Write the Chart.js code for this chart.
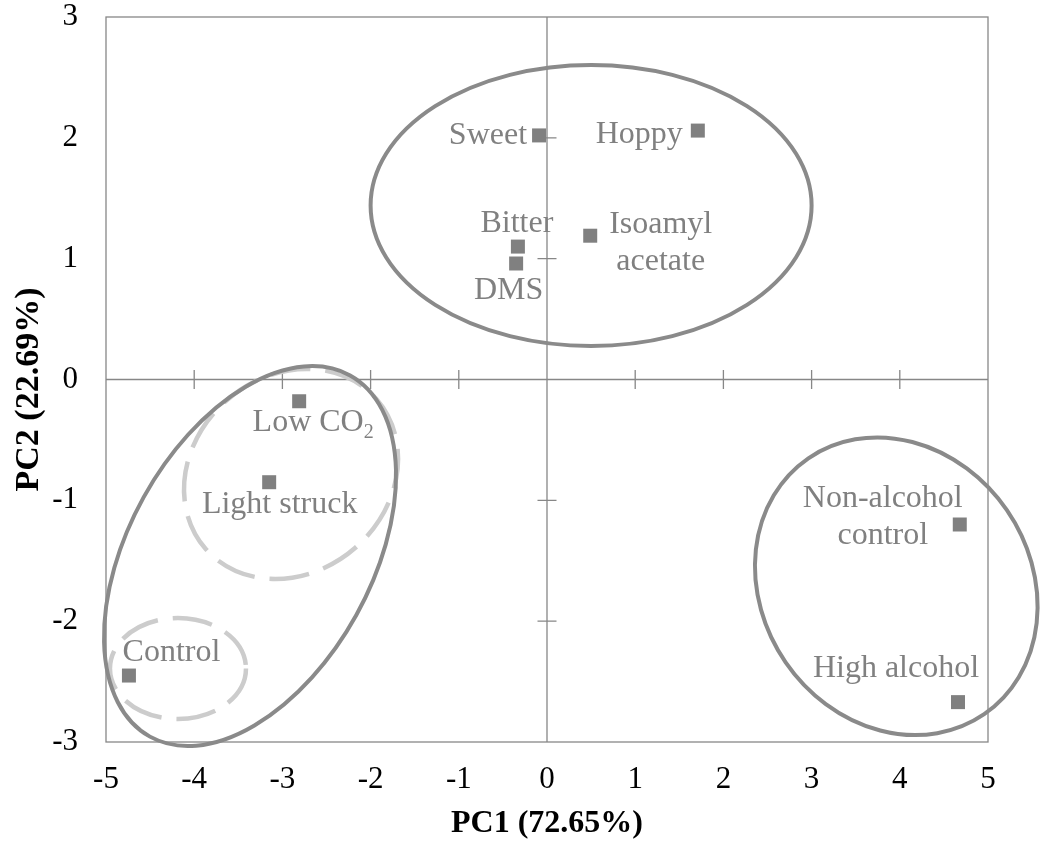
<!DOCTYPE html>
<html>
<head>
<meta charset="utf-8">
<script src="https://cdn.jsdelivr.net/npm/chart.js@4.4.1/dist/chart.umd.min.js"></script>
<style>
  html, body { margin: 0; padding: 0; background: #ffffff; }
  canvas { display: block; }
</style>
</head>
<body>
<canvas id="pca" width="1043" height="847"></canvas>
<script>
// Sensory attributes / beer samples and their PCA scores
const attributeNames = ['Sweet', 'Hoppy', 'Bitter', 'DMS', ['Isoamyl', 'acetate'], 'Low CO₂',
  'Light struck', 'Control', ['Non-alcohol', 'control'], 'High alcohol'];
const pc1Scores = [-0.09, 1.71, -0.33, -0.35, 0.49, -2.81, -3.15, -4.74, 4.68, 4.66];
const pc2Scores = [2.02, 2.06, 1.10, 0.96, 1.19, -0.18, -0.85, -2.45, -1.20, -2.67];

const xTickValues = [-5, -4, -3, -2, -1, 0, 1, 2, 3, 4, 5];
const yTickValues = [-3, -2, -1, 0, 1, 2, 3];
const xAxisTitle = 'PC1 (72.65%)';
const yAxisTitle = 'PC2 (22.69%)';

// Where each label sits: offset (px) of its first baseline from the marker centre
const labelPlacement = [
  { align: 'right',  dx: -12,   dy: 9 },
  { align: 'right',  dx: -15,   dy: 12.5 },
  { align: 'center', dx: -1,    dy: -15 },
  { align: 'center', dx: -7.5,  dy: 35 },
  { align: 'center', dx: 70.5,  dy: -2.5 },
  { align: 'center', dx: 14,    dy: 30 },
  { align: 'center', dx: 10.5,  dy: 31 },
  { align: 'center', dx: 42.5,  dy: -15 },
  { align: 'center', dx: -77,   dy: -17.5 },
  { align: 'center', dx: -62,   dy: -25 }
];

// Grouping ellipses: centre in score units, radii in axis units, tilt in degrees
const groupEllipses = [
  { cx: 0.50,   cy: 1.44,   rx: 2.50,  ry: 1.163, tilt: 0,     dashed: false },
  { cx: 3.96,   cy: -1.711, rx: 1.76,  ry: 1.111, tilt: 55.5,  dashed: false },
  { cx: -3.367, cy: -1.461, rx: 2.341, ry: 1.006, tilt: -61,   dashed: false },
  { cx: -2.902, cy: -0.782, rx: 1.288, ry: 0.810, tilt: -41.3, dashed: true },
  { cx: -4.184, cy: -2.392, rx: 0.771, ry: 0.418, tilt: 0,     dashed: true }
];

const SERIF = '"Liberation Serif", "Times New Roman", serif';
const AXIS_GREY = '#878787';
const MARK_GREY = '#808080';

const points = pc1Scores.map((x, i) => ({ x: x, y: pc2Scores[i] }));

// Draw text where ₀-₉ are rendered as subscripts
const SUBS = '₀₁₂₃₄₅₆₇₈₉';
function splitRich(text) {
  const parts = [];
  for (const ch of text) {
    const k = SUBS.indexOf(ch);
    const sub = k >= 0;
    const c = sub ? String(k) : ch;
    const last = parts[parts.length - 1];
    if (last && last.sub === sub) last.t += c; else parts.push({ t: c, sub: sub });
  }
  return parts;
}
function drawRich(ctx, text, x, y, align, size) {
  const parts = splitRich(text);
  const subSize = Math.round(size * 0.64);
  let total = 0;
  parts.forEach(p => {
    ctx.font = (p.sub ? subSize : size) + 'px ' + SERIF;
    p.w = ctx.measureText(p.t).width;
    total += p.w;
  });
  let cx = align === 'right' ? x - total : align === 'center' ? x - total / 2 : x;
  ctx.textAlign = 'left';
  ctx.textBaseline = 'alphabetic';
  parts.forEach(p => {
    ctx.font = (p.sub ? subSize : size) + 'px ' + SERIF;
    ctx.fillText(p.t, cx, p.sub ? y + size * 0.2 : y);
    cx += p.w;
  });
}

const pcaDecor = {
  id: 'pcaDecor',
  beforeDatasetsDraw(chart) {
    const { ctx, chartArea: a, scales: { x, y } } = chart;
    ctx.save();
    ctx.strokeStyle = AXIS_GREY;
    ctx.lineWidth = 1.3;
    // plot frame
    ctx.strokeRect(a.left, a.top, a.right - a.left, a.bottom - a.top);
    // axes through the origin
    const x0 = x.getPixelForValue(0);
    const y0 = y.getPixelForValue(0);
    ctx.beginPath();
    ctx.moveTo(a.left, y0); ctx.lineTo(a.right, y0);
    ctx.moveTo(x0, a.top); ctx.lineTo(x0, a.bottom);
    // cross tick marks
    const t = 9.5;
    xTickValues.forEach(v => {
      if (v === xTickValues[0] || v === xTickValues[xTickValues.length - 1] || v === 0) return;
      const px = x.getPixelForValue(v);
      ctx.moveTo(px, y0 - t); ctx.lineTo(px, y0 + t);
    });
    yTickValues.forEach(v => {
      if (v === yTickValues[0] || v === yTickValues[yTickValues.length - 1] || v === 0) return;
      const py = y.getPixelForValue(v);
      ctx.moveTo(x0 - t, py); ctx.lineTo(x0 + t, py);
    });
    ctx.stroke();
    // vertical axis title, rotated
    ctx.fillStyle = '#000000';
    ctx.font = 'bold 34px ' + SERIF;
    ctx.textAlign = 'center';
    ctx.textBaseline = 'middle';
    ctx.translate(29, (a.top + a.bottom) / 2 + 10);
    ctx.rotate(-Math.PI / 2);
    ctx.fillText(yAxisTitle, 0, 0);
    ctx.restore();
  },
  afterDatasetsDraw(chart) {
    const { ctx, scales: { x, y } } = chart;
    const meta = chart.getDatasetMeta(0);
    const pxX = Math.abs(x.getPixelForValue(1) - x.getPixelForValue(0));
    const pxY = Math.abs(y.getPixelForValue(1) - y.getPixelForValue(0));
    ctx.save();
    // data labels
    ctx.fillStyle = MARK_GREY;
    meta.data.forEach((el, i) => {
      const place = labelPlacement[i];
      const lines = Array.isArray(attributeNames[i]) ? attributeNames[i] : [attributeNames[i]];
      lines.forEach((line, j) => {
        drawRich(ctx, line, el.x + place.dx, el.y + place.dy + j * 36.5, place.align, 32);
      });
    });
    // group ellipses
    groupEllipses.filter(e => e.dashed).concat(groupEllipses.filter(e => !e.dashed)).forEach(e => {
      ctx.beginPath();
      ctx.ellipse(x.getPixelForValue(e.cx), y.getPixelForValue(e.cy),
        e.rx * pxX, e.ry * pxY, e.tilt * Math.PI / 180, 0, Math.PI * 2);
      if (e.dashed) {
        ctx.strokeStyle = '#cccccc';
        ctx.lineWidth = 4.5;
        ctx.setLineDash([40, 15]);
      } else {
        ctx.strokeStyle = '#8a8a8a';
        ctx.lineWidth = 4;
        ctx.setLineDash([]);
      }
      ctx.stroke();
    });
    ctx.restore();
  }
};

new Chart(document.getElementById('pca'), {
  type: 'scatter',
  data: {
    datasets: [{
      data: points,
      pointStyle: 'rect',
      pointRadius: 9.9,
      pointHoverRadius: 9.9,
      backgroundColor: MARK_GREY,
      borderColor: MARK_GREY,
      borderWidth: 0
    }]
  },
  options: {
    responsive: false,
    animation: false,
    devicePixelRatio: 1,
    layout: { padding: { top: 17, right: 55, left: 0, bottom: 0 } },
    plugins: { legend: { display: false }, tooltip: { enabled: false } },
    scales: {
      x: {
        type: 'linear',
        position: 'bottom',
        min: xTickValues[0],
        max: xTickValues[xTickValues.length - 1],
        afterBuildTicks: s => { s.ticks = xTickValues.map(v => ({ value: v })); },
        afterFit: s => { s.height = 105; s.paddingLeft = 0; s.paddingRight = 0; },
        grid: { display: false, drawTicks: false },
        border: { display: false },
        ticks: {
          autoSkip: false, maxRotation: 0, padding: 22,
          color: '#000000',
          font: { family: SERIF, size: 31, lineHeight: 1 }
        },
        title: {
          display: true, text: xAxisTitle, color: '#000000',
          padding: { top: 0, bottom: 7 },
          font: { family: SERIF, size: 32, weight: 'bold', lineHeight: 1 }
        }
      },
      y: {
        type: 'linear',
        position: 'left',
        min: yTickValues[0],
        max: yTickValues[yTickValues.length - 1],
        afterBuildTicks: s => { s.ticks = yTickValues.map(v => ({ value: v })); },
        afterFit: s => { s.width = 106; s.paddingTop = 0; s.paddingBottom = 0; },
        grid: { display: false, drawTicks: false },
        border: { display: false },
        ticks: {
          autoSkip: false, padding: 28,
          color: '#000000',
          font: { family: SERIF, size: 31, lineHeight: 1 }
        }
      }
    }
  },
  plugins: [pcaDecor]
});
</script>
</body>
</html>
